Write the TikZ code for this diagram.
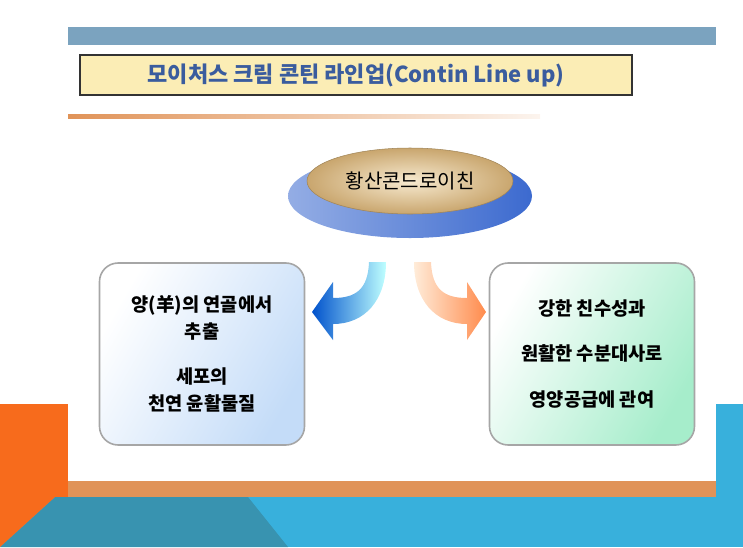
\documentclass[tikz,border=0pt]{standalone}
\usepackage{fontspec}
\newfontfamily\kr{Noto Sans CJK KR}
\usetikzlibrary{positioning,shapes.geometric}
\definecolor{barblue}{HTML}{7BA3BF}
\definecolor{titleblue}{HTML}{3A5C9E}
\definecolor{titlefill}{HTML}{FBEDB5}
\definecolor{barorange}{HTML}{E09358}
\definecolor{hotorange}{HTML}{F76B1C}
\definecolor{skyblue}{HTML}{38B0DC}
\definecolor{deepteal}{HTML}{3893B0}
\definecolor{lightblue}{HTML}{C4DCF8}
\definecolor{lightgreen}{HTML}{A6EDCB}
\definecolor{baseblue}{HTML}{3C6ACF}
\definecolor{gold}{HTML}{C9A66E}
\definecolor{cream}{HTML}{F7EAD0}
\tikzset{
  infobox/.style={draw=gray!70, line width=1.2pt, rounded corners=14pt,
    minimum width=153.75pt, minimum height=136.5pt, align=center,
    font=\kr\bfseries\fontsize{14}{20}\selectfont},
}
\begin{document}
\begin{tikzpicture}[x=0.75pt,y=-0.75pt]
\useasboundingbox (0,0) rectangle (743,547);
% background
\fill[hotorange] (0,404) rectangle (68,547);
\fill[skyblue] (716,404) rectangle (743,547);
\fill[skyblue] (0,497) rectangle (743,547);
\fill[deepteal] (0,547) -- (55,497) -- (248,497) -- (288,547) -- cycle;
\fill[hotorange] (0,497) -- (55,497) -- (0,547) -- cycle;
\fill[barorange] (68,481) rectangle (716,497);
\fill[barblue] (68,27) rectangle (716,45);
\shade[left color=barorange, right color=barorange!10] (68,114) rectangle (540,118);
% title
\node[draw=black!80, line width=1pt, fill=titlefill, minimum width=414pt, minimum height=30pt,
  text=titleblue, font=\kr\bfseries\fontsize{16.5}{18}\selectfont] (title) at (356,75)
  {모이처스 크림 콘틴 라인업(Contin Line up)};
% hub
\shade[left color=baseblue!55, right color=baseblue] (410,196) ellipse (122 and 42);
\shade[inner color=cream, outer color=gold, draw=gold!80!black] (410,181) ellipse (103 and 33);
\node[font=\kr\fontsize{15}{16}\selectfont] (hub) at (410,181) {황산콘드로이친};
% boxes
\node[infobox, left color=white, right color=lightblue, shading angle=60] (left) at (202,354)
  {양(羊)의 연골에서\\추출\\[14pt]세포의\\천연 윤활물질};
\node[infobox, left color=white, right color=lightgreen, shading angle=60] (right) at (592,354)
  {강한 친수성과\\[14pt]원활한 수분대사로\\[14pt]영양공급에 관여};
% arrows
\shade[left color=blue!60!cyan!80!black, right color=cyan!25]
  (369,262) .. controls (368,290) and (355,298) .. (333,298) -- (333,282) -- (312,312)
  -- (333,340) -- (333,324) .. controls (365,324) and (386,300) .. (386,262) -- cycle;
\shade[left color=orange!15, right color=orange!70!red!70]
  (431,262) .. controls (432,290) and (445,298) .. (467,298) -- (467,282) -- (486,312)
  -- (467,340) -- (467,324) .. controls (435,324) and (414,300) .. (414,262) -- cycle;
\end{tikzpicture}
\end{document}
